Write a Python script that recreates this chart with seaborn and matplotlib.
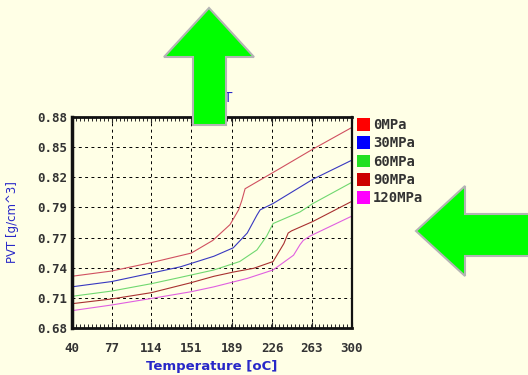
import numpy as np
import pandas as pd
import seaborn as sns
import matplotlib.pyplot as plt
from matplotlib.patches import Patch, Polygon
from matplotlib.ticker import AutoMinorLocator

# Data
pressures = ['0MPa', '30MPa', '60MPa', '90MPa', '120MPa']
temp_0 = [40, 77, 114, 151, 171, 187, 195, 198, 201, 233, 263, 300]
pvt_0 = [0.729, 0.734, 0.742, 0.751, 0.763, 0.778, 0.792, 0.801, 0.812, 0.831, 0.849, 0.870]
temp_30 = [40, 77, 114, 141, 172, 190, 203, 212, 215, 227, 264, 300]
pvt_30 = [0.719, 0.724, 0.732, 0.738, 0.748, 0.756, 0.770, 0.787, 0.792, 0.798, 0.821, 0.839]
temp_60 = [40, 77, 114, 141, 172, 196, 212, 221, 227, 252, 264, 300]
pvt_60 = [0.710, 0.715, 0.722, 0.728, 0.735, 0.743, 0.754, 0.767, 0.779, 0.790, 0.798, 0.818]
temp_90 = [40, 77, 114, 151, 172, 190, 209, 227, 237, 241, 244, 264, 300]
pvt_90 = [0.703, 0.7075, 0.7135, 0.723, 0.729, 0.733, 0.7366, 0.743, 0.760, 0.770, 0.772, 0.781, 0.800]
temp_120 = [40, 77, 114, 151, 172, 203, 227, 246, 252, 255, 261, 300]
pvt_120 = [0.6964, 0.7018, 0.708, 0.7144, 0.719, 0.727, 0.735, 0.749, 0.759, 0.763, 0.767, 0.786]

x_ticks = [40, 77, 114, 151, 189, 226, 263, 300]
y_ticks = [0.68, 0.7086, 0.7371, 0.7657, 0.7943, 0.8229, 0.8514, 0.88]
y_tick_labels = ['0.68', '0.71', '0.74', '0.77', '0.79', '0.82', '0.85', '0.88']

legend_colors = ['#FF0000', '#0000FF', '#22E022', '#CC0000', '#FF00FF']
line_colors = ['#D05060', '#3838C0', '#70D870', '#A83030', '#E060E0']

temps = [temp_0, temp_30, temp_60, temp_90, temp_120]
pvts = [pvt_0, pvt_30, pvt_60, pvt_90, pvt_120]
df = pd.concat([pd.DataFrame({'temp': t, 'pvt': v, 'pressure': p})
                for t, v, p in zip(temps, pvts, pressures)], ignore_index=True)

bg = '#FFFFE6'
sns.set_style('white', {'axes.facecolor': bg, 'figure.facecolor': bg})

fig = plt.figure(figsize=(5.28, 3.75), dpi=100)
ax = fig.add_axes([71.7 / 528, 1 - 328 / 375, 280 / 528, 211 / 375])

sns.lineplot(data=df, x='temp', y='pvt', hue='pressure', palette=line_colors,
             hue_order=pressures, estimator=None, sort=False, linewidth=0.8,
             legend=False, ax=ax)

ax.set_xlim(40, 300)
ax.set_ylim(0.68, 0.88)
ax.set_xticks(x_ticks)
ax.set_xticklabels([str(t) for t in x_ticks])
ax.set_yticks(y_ticks)
ax.set_yticklabels(y_tick_labels)
ax.grid(True, color='black', linestyle=(0, (3, 3.5)), linewidth=0.7)

tick_font = dict(family='DejaVu Sans Mono', weight='bold', size=9)
for lab in ax.get_xticklabels() + ax.get_yticklabels():
    lab.set_fontproperties(tick_font)
    lab.set_color('#333333')

ax.xaxis.set_minor_locator(AutoMinorLocator(10))
ax.tick_params(axis='x', which='minor', direction='in', length=3, width=0.7,
               top=True, bottom=True)
ax.tick_params(axis='x', which='major', direction='in', length=4, width=0.8,
               top=True, bottom=True, pad=10)
ax.tick_params(axis='y', which='major', direction='out', length=2, width=0.8, pad=1)

for side, lw in [('left', 2.5), ('bottom', 2.0), ('top', 2.0), ('right', 1.6)]:
    ax.spines[side].set_visible(True)
    ax.spines[side].set_color('#111111')
    ax.spines[side].set_linewidth(lw)

ax.set_xlabel('Temperature [oC]', color='#2828C8', fontsize=9.5, fontweight='bold')
ax.xaxis.set_label_coords(0.5, -0.15)
ax.set_ylabel('PVT [g/cm^3]', color='#2828C8', fontsize=8.5)
ax.yaxis.set_label_coords(-0.19, 0.5)

fig.text(233 / 528, 1 - 98 / 375, 'PVT', ha='right', va='center',
         color='#2828C8', fontsize=10)

legend_font = dict(family='DejaVu Sans Mono', weight='bold', size=10)
handles = [Patch(facecolor=c, edgecolor='none') for c in legend_colors]
leg = ax.legend(handles, pressures, loc='upper left', bbox_to_anchor=(1.012, 1.006),
                frameon=False, borderaxespad=0.15, borderpad=0.0,
                handlelength=0.95, handleheight=1.05, handletextpad=0.2,
                labelspacing=0.3, prop=legend_font)
for t in leg.get_texts():
    t.set_color('#333333')

# overlay with the two green arrows
over = fig.add_axes([0, 0, 1, 1], zorder=10)
over.set_xlim(0, 528)
over.set_ylim(375, 0)
over.axis('off')
over.patch.set_alpha(0)
up_arrow = [(209, 8), (254, 57), (226, 57), (226, 125), (193, 125), (193, 57), (164, 57)]
left_arrow = [(416, 231), (465, 186), (465, 214), (530, 214), (530, 256), (465, 256), (465, 276)]
for pts in (up_arrow, left_arrow):
    over.add_patch(Polygon(pts, closed=True, facecolor='#00FF00',
                           edgecolor='#B4B4B4', linewidth=1.5))

fig.savefig('out.png', dpi=100, facecolor=bg)
